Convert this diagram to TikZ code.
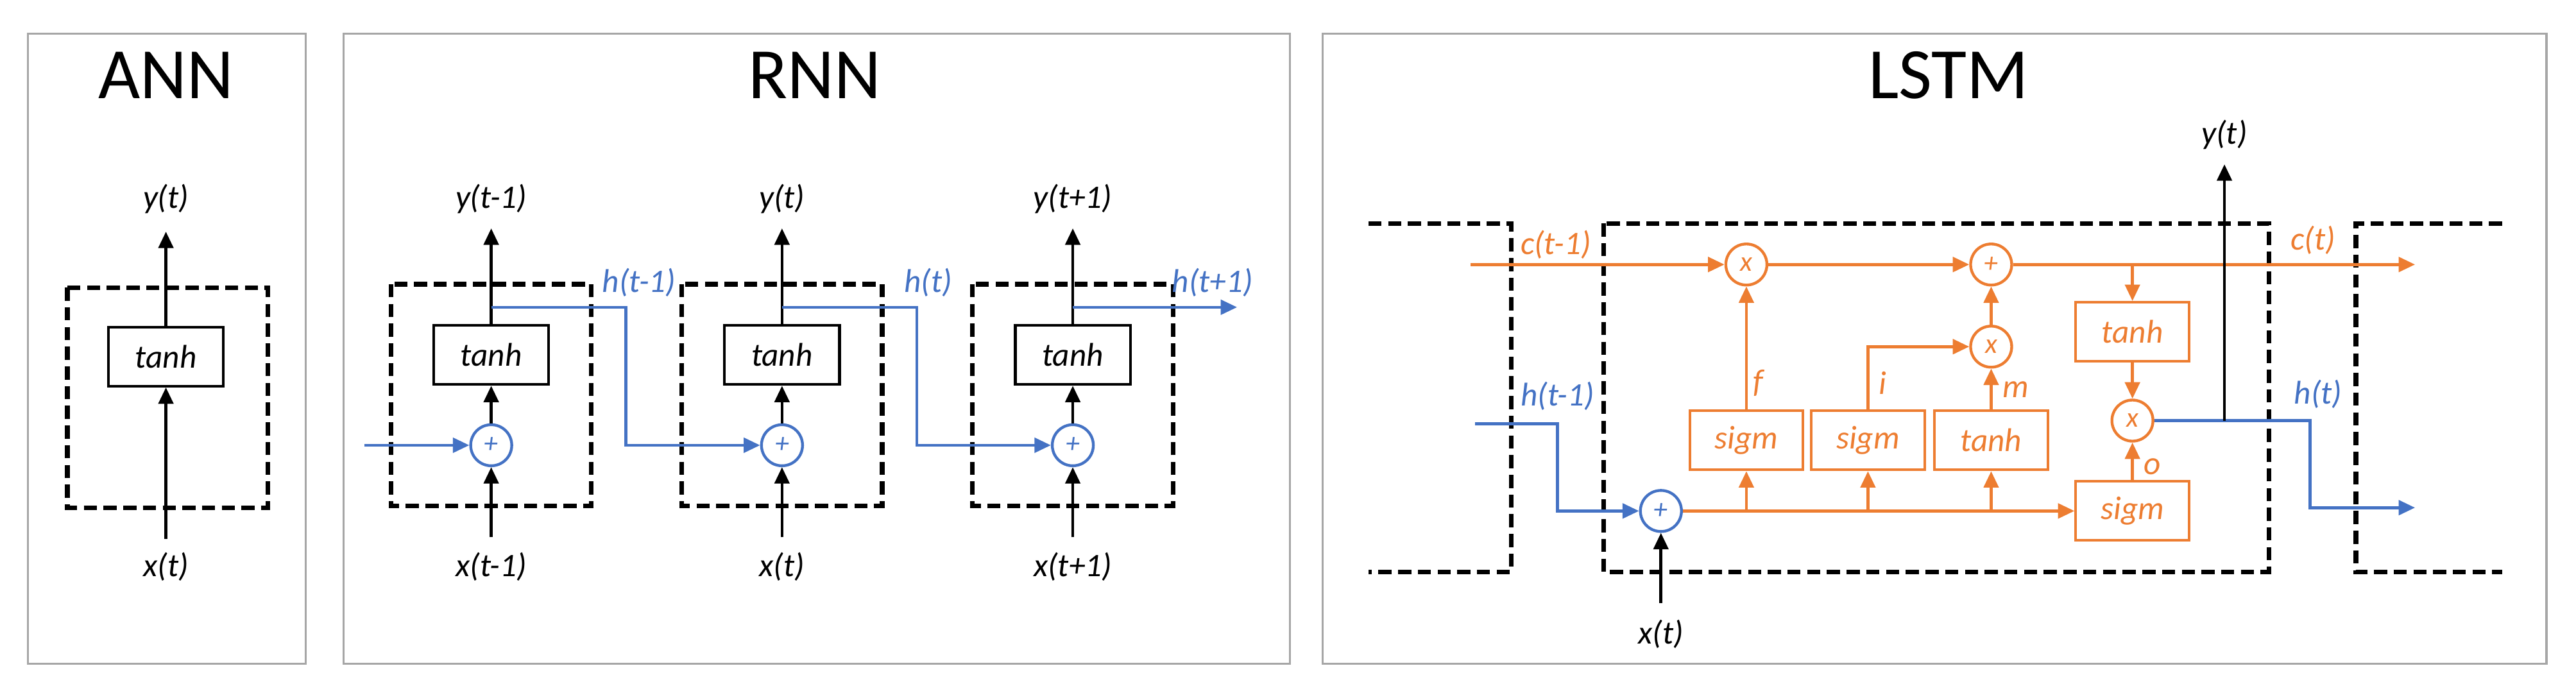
\documentclass[tikz,border=0pt]{standalone}
\usepackage{fontspec}
\setmainfont{Carlito}
\usetikzlibrary{arrows.meta}
\definecolor{org}{HTML}{ED7D31}
\definecolor{blu}{HTML}{4472C4}
\definecolor{pan}{HTML}{A6A6A6}
\begin{document}
\begin{tikzpicture}[x=1pt,y=-1pt,
  panel/.style={draw=pan,line width=1.2pt},
  cell/.style={draw=black,line width=2.8pt,dash pattern=on 8pt off 4pt},
  box/.style={draw,line width=1.6pt,minimum width=70pt,minimum height=36pt,inner sep=0pt,font=\fontsize{20}{20}\selectfont\itshape},
  obox/.style={box,draw=org,text=org,minimum width=69pt},
  circ/.style={draw,circle,line width=1.7pt,minimum size=25pt,inner sep=0pt,font=\fontsize{17}{17}\selectfont\itshape},
  lab/.style={font=\fontsize{20}{20}\selectfont\itshape,inner sep=0pt},
  ttl/.style={font=\fontsize{44}{44}\selectfont,inner sep=0pt},
  arr/.style={line width=1.8pt,-{Triangle[length=10pt,width=9pt]}}]
\useasboundingbox (0,0) rectangle (1568,426);
% panels
\draw[panel] (17,20.5) rectangle (186,404);
\draw[panel] (209,20.5) rectangle (785,404);
\draw[panel] (805,20.5) rectangle (1550,404);
\node[ttl] (tA) at (101,46) {ANN};
\node[ttl] (tR) at (496,46) {RNN};
\node[ttl] (tL) at (1186,46) {LSTM};
% ANN
\draw[cell] (41,175) rectangle (163,309);
\node[box] (a1) at (101,217) {tanh};
\coordinate (ain) at (101,328);
\coordinate (aout) at (101,141);
\node[lab] (ay) at (101,121) {y(t)};
\node[lab] (ax) at (101,345) {x(t)};
\draw[arr] (ain) -- (a1);
\draw[arr] (a1) -- (aout);
% RNN
\foreach \n/\cx/\yl/\xl in {1/299/{y(t-1)}/{x(t-1)},2/476/{y(t)}/{x(t)},3/653/{y(t+1)}/{x(t+1)}}{
  \draw[cell] (\cx-61,173) rectangle (\cx+61,308);
  \node[box] (r\n) at (\cx,216) {tanh};
  \node[circ,draw=blu,text=blu] (p\n) at (\cx,271) {+};
  \coordinate (rin\n) at (\cx,327);
  \coordinate (rout\n) at (\cx,139);
  \coordinate (rh\n) at (\cx,187);
  \node[lab] (ry\n) at (\cx,121) {\yl};
  \node[lab] (rx\n) at (\cx,345) {\xl};
  \draw[arr] (rin\n) -- (p\n);
  \draw[arr] (p\n) -- (r\n);
  \draw[arr] (r\n) -- (rout\n);
}
\coordinate (h0) at (222,271);
\draw[arr,blu] (h0) -- (p1);
\draw[arr,blu] (rh1) -- (381,187) |- (p2);
\draw[arr,blu] (rh2) -- (558,187) |- (p3);
\coordinate (hend) at (753,187);
\draw[arr,blu] (rh3) -- (hend);
\node[lab,text=blu] (lh1) at (389,172) {h(t-1)};
\node[lab,text=blu] (lh2) at (565,172) {h(t)};
\node[lab,text=blu] (lh3) at (738,172) {h(t+1)};
% LSTM dashed cells
\draw[cell] (833,136) -- (920,136) -- (920,348) -- (833,348);
\draw[cell] (976,136) rectangle (1381,348);
\draw[cell] (1523,136) -- (1434,136) -- (1434,348) -- (1523,348);
% LSTM nodes
\node[circ,draw=org,text=org] (mf) at (1063,161) {x};
\node[circ,draw=org,text=org] (ac) at (1212,161) {+};
\node[circ,draw=org,text=org] (mi) at (1212,211) {x};
\node[circ,draw=org,text=org] (mo) at (1298,256) {x};
\node[obox] (th) at (1298,202) {tanh};
\node[obox] (sf) at (1063,268) {sigm};
\node[obox] (si) at (1137,268) {sigm};
\node[obox] (tm) at (1212,268) {tanh};
\node[obox] (so) at (1298,311) {sigm};
\node[circ,draw=blu,text=blu] (px) at (1011,311) {+};
\coordinate (cin) at (895,161);
\coordinate (cout) at (1470,161);
\coordinate (cth) at (1298,161);
\coordinate (hin) at (898,258);
\coordinate (hout) at (1470,309);
\coordinate (xin) at (1011,367);
\coordinate (yout) at (1354,100);
\coordinate (ybr) at (1354,256);
% orange
\draw[arr,org] (cin) -- (mf);
\draw[arr,org] (mf) -- (ac);
\draw[arr,org] (ac) -- (cout);
\draw[arr,org] (cth) -- (th);
\draw[arr,org] (th) -- (mo);
\draw[arr,org] (so) -- (mo);
\draw[arr,org] (sf) -- (mf);
\draw[arr,org] (si.north) |- (mi);
\draw[arr,org] (tm) -- (mi);
\draw[arr,org] (mi) -- (ac);
\draw[arr,org] (px) -- (so);
\draw[arr,org] (sf.south |- px) -- (sf);
\draw[arr,org] (si.south |- px) -- (si);
\draw[arr,org] (tm.south |- px) -- (tm);
% blue / black
\draw[arr,blu] (hin) -- (948,258) |- (px);
\draw[arr] (xin) -- (px);
\draw[arr,blu] (mo) -- (1406,256) |- (hout);
\draw[arr] (ybr) -- (yout);
% labels
\node[lab] (ly) at (1354,82) {y(t)};
\node[lab] (lx) at (1011,386) {x(t)};
\node[lab,text=org] (lc1) at (947,149) {c(t-1)};
\node[lab,text=org] (lc2) at (1408,146) {c(t)};
\node[lab,text=blu] (lh4) at (948,241) {h(t-1)};
\node[lab,text=blu] (lh5) at (1411,240) {h(t)};
\node[lab,text=org] (lf) at (1070,233) {f};
\node[lab,text=org] (li) at (1146,233) {i};
\node[lab,text=org] (lm) at (1227,237) {m};
\node[lab,text=org] (lo) at (1310,284) {o};
\end{tikzpicture}
\end{document}
